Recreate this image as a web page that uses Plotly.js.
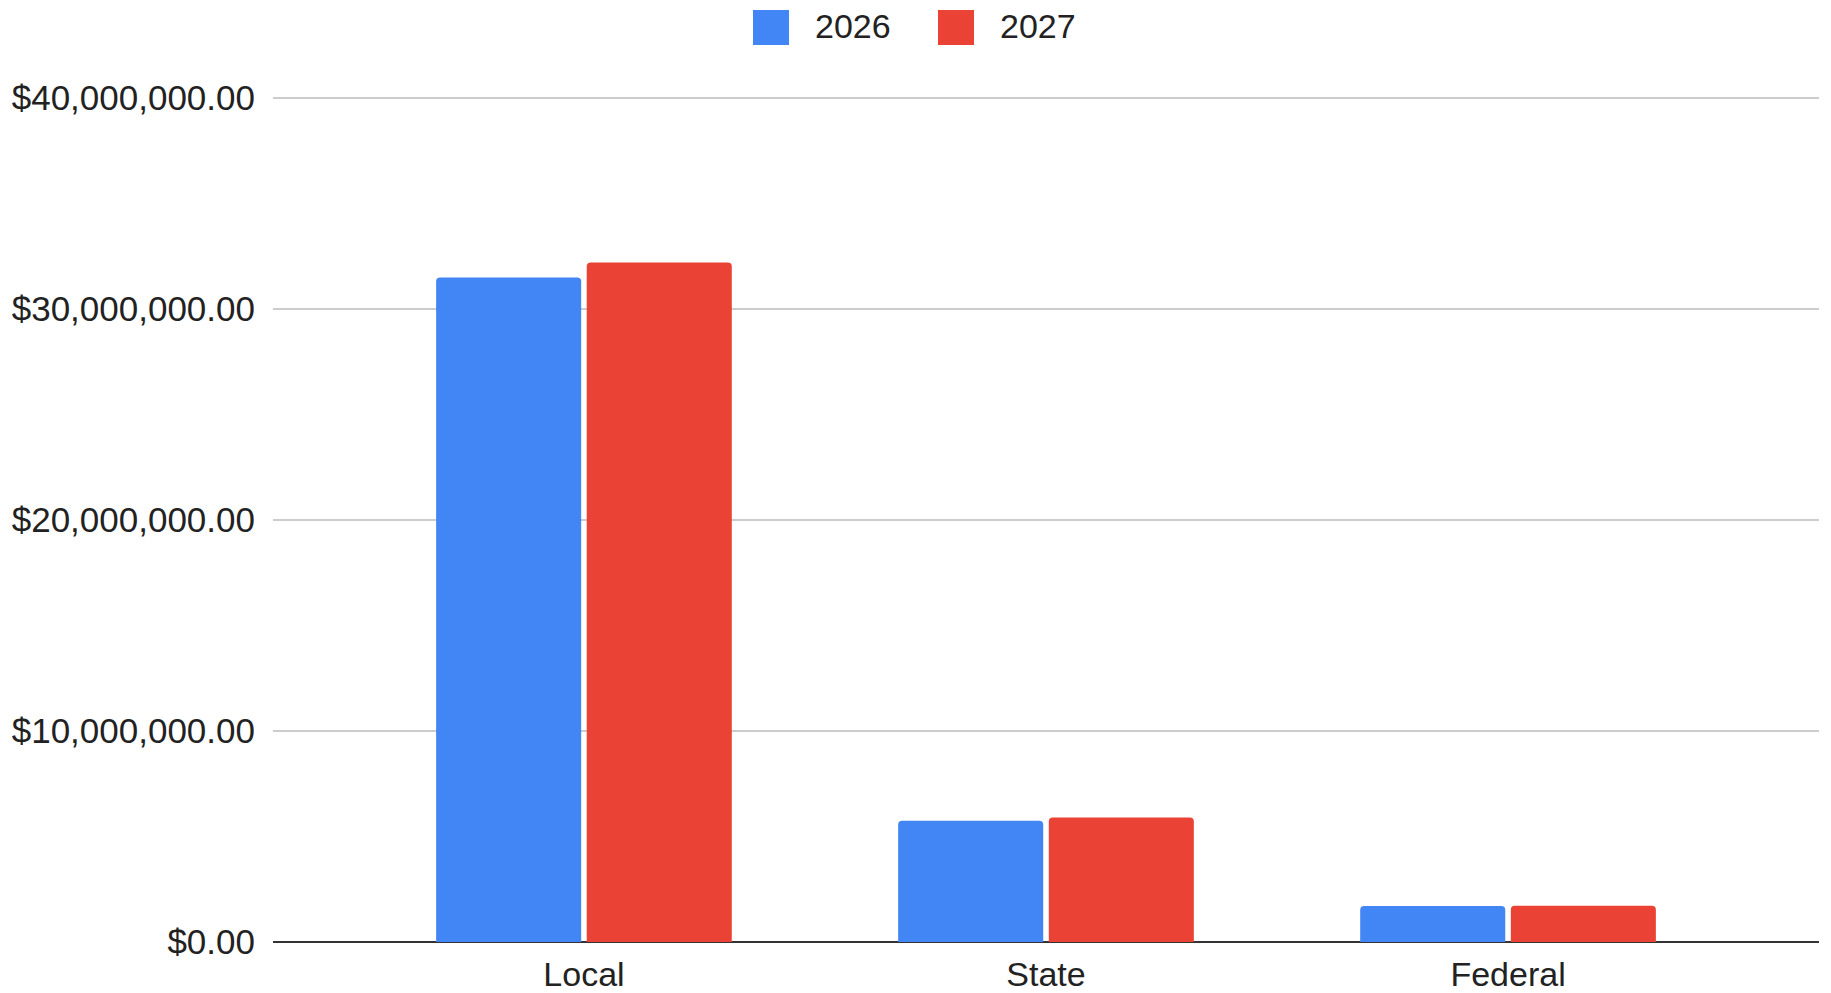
<!DOCTYPE html>
<html>
<head>
<meta charset="utf-8">
<script src="https://cdn.plot.ly/plotly-3.0.1.min.js"></script>
<style>
  html, body { margin: 0; padding: 0; background: #fff; }
  #chart { width: 1831px; height: 993px; }
</style>
</head>
<body>
<div id="chart"></div>
<script>
// Funding by source, two budget years
const categories = ['Local', 'State', 'Federal'];
const seriesNames = ['2026', '2027'];
const values2026 = [31500000, 5750000, 1710000];
const values2027 = [32200000, 5900000, 1720000];
const yTicks = [0, 10000000, 20000000, 30000000, 40000000];
const yMax = 40050000;

const colors = ['#4285F4', '#EA4335'];
const W = 1831, H = 993;
const M = { l: 273, r: 12, t: 97, b: 51 };
const plotW = W - M.l - M.r, plotH = H - M.t - M.b;
const FONT = 'Liberation Sans, Arial, sans-serif';

const traces = [values2026, values2027].map((vals, i) => ({
  type: 'bar',
  name: seriesNames[i],
  x: categories,
  y: vals,
  marker: { color: colors[i], line: { width: 0 } },
  showlegend: false,
  hoverinfo: 'x+y+name'
}));

// pixel -> paper helpers for the custom legend
const px = v => (v - M.l) / plotW;
const py = v => (H - M.b - v) / plotH;

const legendItems = [
  { sq: 753, text: 813 },
  { sq: 938, text: 998 }
];
const shapes = legendItems.map((it, i) => ({
  type: 'rect', xref: 'paper', yref: 'paper',
  x0: px(it.sq), x1: px(it.sq + 36), y0: py(45), y1: py(10),
  fillcolor: colors[i], line: { width: 0 }, layer: 'above'
}));
const annotations = legendItems.map((it, i) => ({
  xref: 'paper', yref: 'paper', x: px(it.text), y: py(25.5),
  xanchor: 'left', yanchor: 'middle', showarrow: false,
  text: seriesNames[i], font: { family: FONT, size: 34, color: '#222' }
}));

const layout = {
  width: W, height: H,
  margin: M,
  paper_bgcolor: '#fff', plot_bgcolor: '#fff',
  font: { family: FONT, size: 34, color: '#222' },
  barmode: 'group',
  bargap: 0.348,
  bargroupgap: 0.037,
  barcornerradius: 4,
  xaxis: {
    type: 'category',
    range: [-0.673, 2.673],
    showgrid: false, zeroline: false,
    showline: false,
    ticks: 'outside', ticklen: 2, tickcolor: 'rgba(0,0,0,0)',
    tickfont: { family: FONT, size: 34, color: '#222' },
    fixedrange: true
  },
  yaxis: {
    range: [0, yMax],
    tickvals: yTicks,
    tickformat: '$,.2f',
    showgrid: true, gridcolor: '#cccccc', gridwidth: 2,
    zeroline: true, zerolinecolor: '#333333', zerolinewidth: 2,
    showline: false,
    ticks: 'outside', ticklen: 10, tickcolor: 'rgba(0,0,0,0)',
    tickfont: { family: FONT, size: 35, color: '#222' },
    fixedrange: true
  },
  shapes: shapes,
  annotations: annotations
};

Plotly.newPlot('chart', traces, layout, { displayModeBar: false, staticPlot: true });
</script>
</body>
</html>
